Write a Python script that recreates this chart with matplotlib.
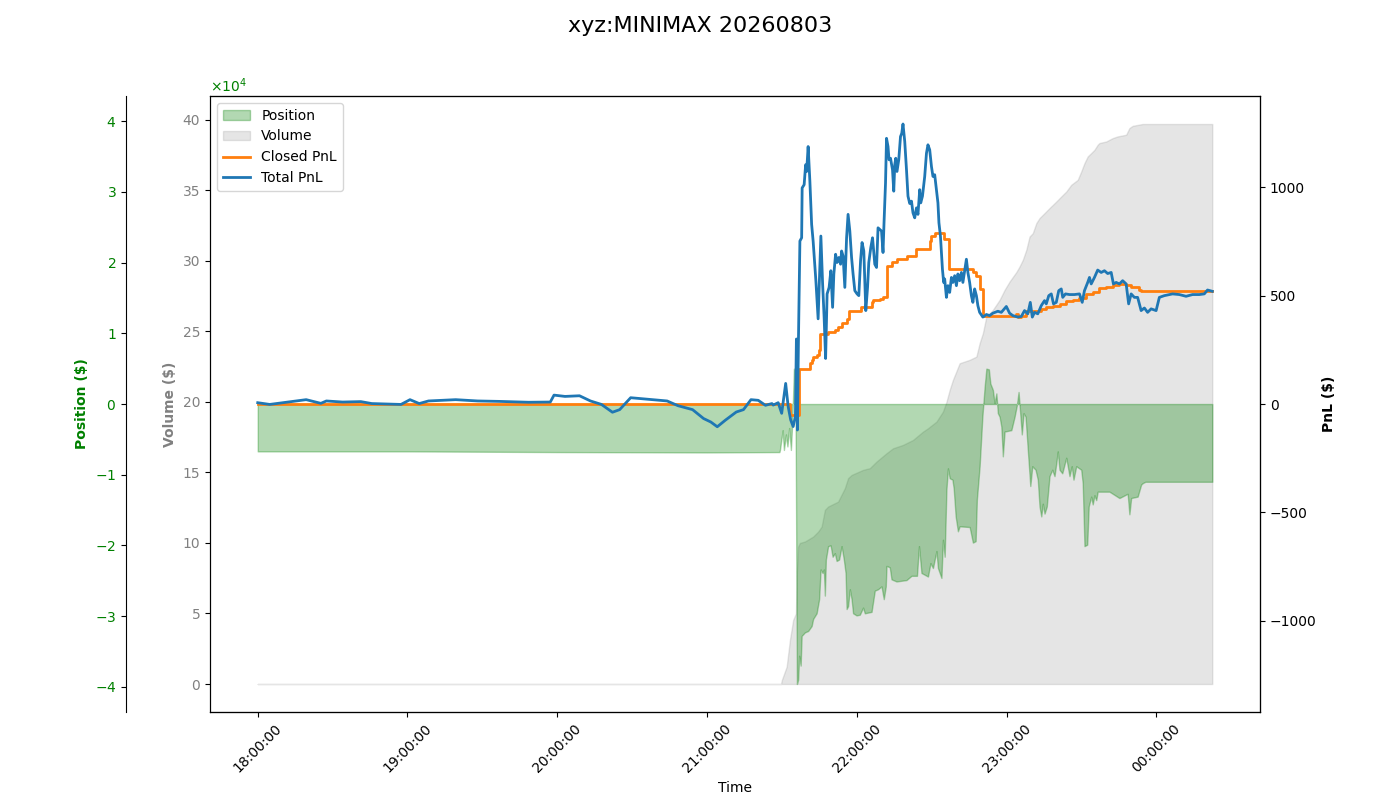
import matplotlib
matplotlib.use("Agg")
import matplotlib.pyplot as plt
import matplotlib.dates as mdates
from matplotlib.patches import Patch
from matplotlib.lines import Line2D
import numpy as np
import pandas as pd

start = pd.Timestamp("2026-08-03 18:00:00")

# Total PnL: minutes after 18:00 and value ($)
total_min = [0, 4.8, 12.2, 19.4, 25.3, 27.5, 34.0, 41.3, 45.7, 57.4, 61.0, 64.7, 68.4, 79.3,
             88.1, 96.8, 108.5, 117.2, 118.7, 123.1, 128.9, 133.3, 137.7, 142.1, 145.0, 149.4,
             155.2, 164.0, 168.4, 174.2, 178.6, 181.5, 184.1, 187.3, 191.7, 194.6, 197.6, 200.5,
             203.4, 206.0, 206.5, 208.5, 209.9, 211.5, 212.5, 213.5, 214.5, 215.4, 215.8, 216.0,
             216.2, 216.6, 217.2, 217.9, 218.1, 218.9, 219.5, 219.9, 220.5, 221.2, 221.9, 222.5,
             223.6, 224.5, 225.2, 225.6, 226.3, 226.9, 227.5, 228.1, 228.9, 229.6, 230.3, 230.8,
             231.5, 232.1, 232.8, 233.5, 233.9, 234.5, 235.2, 235.9, 236.5, 237.2, 237.9, 238.5,
             239.2, 240.1, 240.8, 241.5, 242.1, 242.8, 243.6, 244.3, 244.8, 245.6, 246.3, 247.2,
             247.9, 248.5, 249.9, 250.5, 250.9, 251.5, 251.9, 252.5, 252.9, 253.5, 254.3, 254.8,
             255.2, 255.6, 256.1, 256.8, 257.5, 258.0, 258.5, 259.2, 259.9, 260.5, 261.2, 261.9,
             262.5, 263.2, 263.9, 264.5, 265.2, 265.6, 266.3, 267.2, 267.9, 268.5, 269.2, 269.9,
             270.5, 271.2, 271.9, 272.5, 272.9, 273.5, 273.9, 274.3, 274.8, 275.2, 275.9, 276.5,
             277.2, 277.9, 278.5, 279.2, 279.9, 280.5, 281.2, 281.9, 282.5, 283.2, 283.9, 284.5,
             285.2, 285.9, 286.5, 287.2, 287.9, 288.5, 289.2, 290.5, 291.9, 293.2, 294.5, 296.5,
             297.9, 299.9, 301.2, 302.5, 304.5, 305.9, 307.2, 308.5, 309.5, 310.3, 311.2, 312.5,
             313.9, 315.2, 315.9, 316.9, 317.9, 318.8, 319.9, 320.9, 321.9, 322.5, 323.6, 325.2,
             327.2, 329.2, 330.3, 331.2, 332.5, 333.2, 333.9, 335.2, 336.5, 337.9, 339.2, 340.5,
             341.9, 342.8, 343.9, 345.2, 346.5, 347.9, 348.9, 349.9, 351.2, 352.5, 353.9, 355.2,
             356.5, 357.9, 359.9, 361.2, 363.2, 366.5, 369.2, 371.9, 374.5, 377.2, 379.2, 380.5,
             382.4]
total_pnl = [6, -2, 9, 20, 3, 14, 9, 11, 2, -2, 20, 2, 14, 20,
             14, 12, 8, 9, 41, 35, 38, 14, -2, -38, -26, 29,
             23, 14, -8, -26, -67, -83, -105, -75, -37, -26, 20, 17,
             -6, 2, -5, 6, -43, 95, -12, -73, -104, -58, 300, 270,
             -120, 280, 752, 767, 997, 1012, 1104, 1073, 1188, 1027, 829, 752,
             569, 393, 645, 775, 554, 401, 210, 508, 538, 615, 446, 600,
             691, 653, 676, 645, 706, 683, 538, 767, 875, 798, 676, 600,
             523, 508, 500, 661, 745, 706, 431, 538, 653, 722, 767, 645,
             630, 813, 798, 699, 836, 1020, 1226, 1188, 1127, 1134, 1081, 982,
             1104, 1134, 1073, 1127, 1234, 1249, 1292, 1211, 1081, 959, 925, 936,
             882, 859, 905, 875, 989, 928, 959, 1050, 1157, 1196, 1173, 1096,
             1050, 1058, 989, 928, 836, 775, 699, 622, 561, 577, 492, 546,
             515, 584, 561, 592, 546, 600, 569, 607, 561, 615, 668, 607,
             561, 500, 469, 531, 500, 454, 423, 401, 413, 408, 419, 428,
             423, 450, 419, 408, 401, 404, 431, 416, 469, 401, 423, 416,
             454, 477, 462, 500, 508, 462, 469, 523, 531, 492, 508, 505,
             505, 508, 469, 523, 561, 584, 554, 584, 618, 607, 615, 602,
             607, 554, 561, 554, 569, 554, 462, 508, 492, 492, 431, 443,
             423, 439, 431, 492, 500, 508, 505, 497, 505, 505, 508, 526,
             520]

# Closed PnL (step changes)
closed_min = [0, 213.4, 216.8, 221.2, 221.9, 222.5, 223.9, 224.8, 225.2, 228.4, 231.2, 232.4,
              233.9, 235.9, 236.9, 241.5, 245.9, 246.5, 249.2, 250.4, 251.9, 253.9, 256.1,
              260.1, 263.9, 269.2, 269.9, 271.2, 274.8, 276.8, 286.5, 287.9, 289.2, 290.5,
              303.9, 304.5, 305.9, 307.9, 313.9, 315.9, 318.5, 321.2, 323.9, 326.5, 329.2,
              331.9, 334.5, 337.2, 339.9, 342.5, 345.2, 347.9, 349.9, 353.2, 353.9, 382.4]
closed_pnl = [0, -50, 160, 187, 202, 217, 225, 248, 324, 332, 343, 355,
              373, 393, 431, 446, 469, 480, 485, 492, 638, 653, 668,
              683, 714, 752, 775, 790, 760, 622, 607, 592, 531, 408,
              416, 401, 408, 431, 439, 446, 454, 462, 477, 481, 489,
              508, 515, 535, 541, 549, 554, 549, 538, 526, 523, 523]

# Position ($)
pos_min = [0, 60, 120, 180, 209.0, 209.2, 210.3, 210.8, 211.6, 212.2, 212.9, 213.6, 214.2,
           214.8, 215.4, 216.0, 216.5, 216.9, 217.5, 217.9, 219.2, 220.5, 221.9, 222.5, 223.9,
           224.9, 225.5, 226.3, 226.8, 227.2, 227.6, 228.5, 229.5, 230.3, 231.2, 231.9, 232.9,
           233.9, 234.8, 235.5, 235.9, 236.5, 237.2, 237.9, 238.5, 239.9, 241.2, 242.5, 243.2,
           245.9, 247.2, 248.5, 249.9, 250.8, 251.6, 251.9, 253.2, 253.9, 255.9, 259.9, 261.9,
           264.1, 264.9, 265.9, 268.5, 269.5, 270.5, 271.2, 271.9, 272.5, 273.9, 274.5, 275.2,
           275.9, 276.5, 277.2, 278.3, 278.8, 279.6, 280.5, 281.2, 285.2, 286.5, 287.6, 288.1,
           289.2, 290.3, 291.2, 291.9, 292.9, 293.5, 294.5, 295.2, 295.9, 296.5, 297.2, 297.9,
           298.5, 299.2, 301.9, 303.2, 304.1, 304.8, 305.5, 306.1, 306.8, 307.6, 308.5, 309.5,
           310.3, 311.6, 312.5, 313.2, 313.9, 314.5, 315.2, 316.1, 317.2, 318.3, 319.2, 319.9,
           320.5, 321.2, 322.3, 323.9, 325.2, 326.1, 326.8, 327.9, 329.9, 330.5, 331.2, 332.3,
           332.9, 333.9, 334.5, 335.2, 335.9, 336.5, 341.2, 345.2, 348.5, 349.2, 349.9, 352.5,
           353.9, 354.5, 355.6, 382.4]
position = [-6700, -6700, -6800, -6850, -6800, -6500, -3700, -6500, -4300, -6000, -3400, -6500, -2000,
            5000, 4500, -39600, -39000, -35600, -37000, -32800, -32300, -32100, -31400, -30400, -29600,
            -27600, -23400, -23900, -23400, -27100, -22000, -20100, -20000, -21600, -21100, -22200, -22000,
            -20100, -22000, -23900, -29000, -28600, -26200, -27600, -29600, -29900, -29800, -28800, -29600,
            -29400, -26400, -26200, -25800, -27600, -25800, -22900, -23100, -24800, -25100, -24900, -24300,
            -24300, -20100, -23900, -24400, -22500, -23200, -22000, -20800, -23200, -24600, -19200, -21600,
            -12100, -9100, -10500, -10700, -11900, -15900, -18000, -17300, -17400, -19600, -19400, -13500,
            -8800, -1800, 2400, 5000, 4900, 2900, 2000, 100, 1500, -1300, -1800, -3200,
            -7400, -3900, -3700, -1800, -200, 1700, -1500, -4300, -1300, -1800, -6500, -11600,
            -8800, -9300, -10700, -14500, -15900, -14100, -15500, -14500, -10200, -9300, -10200, -8400,
            -6700, -9300, -9800, -7600, -10200, -8800, -10700, -8800, -9300, -11200, -20100, -19900,
            -14500, -13100, -14200, -12900, -13600, -12400, -12400, -13300, -12700, -15600, -13300, -13100,
            -11400, -11200, -11000, -11000]

# Cumulative volume ($, plotted on its own axis)
vol_min = [0, 209.6, 210.0, 211.9, 213.2, 214.5, 215.6, 216.0, 216.5, 217.2, 219.2, 222.5, 224.5,
           225.9, 227.2, 228.5, 232.5, 235.2, 236.5, 237.9, 242.5, 245.2, 247.9, 251.9, 254.5,
           258.5, 262.5, 266.5, 268.5, 271.9, 274.5, 275.9, 277.2, 278.5, 281.2, 285.2, 287.9,
           289.2, 290.5, 291.9, 294.5, 297.2, 299.2, 301.2, 303.9, 305.2, 306.5, 307.9, 309.2,
           310.5, 311.9, 313.2, 315.2, 317.2, 319.9, 321.9, 323.9, 325.9, 328.5, 329.9, 331.2,
           332.5, 333.9, 335.2, 336.5, 337.2, 339.9, 342.5, 344.5, 347.9, 349.2, 350.5, 354.5,
           382.4]
volume = [0, 0, 0.3, 1.23, 3.12, 4.54, 5.0, 8.0, 9.74, 10.0, 10.1, 10.45, 10.8,
          11.16, 12.34, 12.58, 12.93, 13.88, 14.59, 14.82, 15.18, 15.3, 15.77, 16.36, 16.71,
          16.95, 17.3, 17.89, 18.13, 18.6, 19.31, 20.0, 20.85, 21.56, 22.74, 22.98, 23.21,
          24.16, 24.87, 26.05, 26.52, 27.23, 27.94, 28.53, 29.2, 29.6, 30.07, 30.78, 31.72,
          31.96, 32.67, 33.03, 33.38, 33.74, 34.2, 34.56, 34.91, 35.39, 35.74, 36.33, 36.93,
          37.4, 37.64, 37.87, 38.23, 38.35, 38.46, 38.7, 38.82, 38.94, 39.41, 39.57, 39.7,
          39.7]


def to_time(minutes):
    return (start + pd.to_timedelta(np.array(minutes), unit="m")).to_numpy()


t_total = to_time(total_min)
t_closed = to_time(closed_min)
t_pos = to_time(pos_min)
t_vol = to_time(vol_min)

fig, ax_vol = plt.subplots(figsize=(14, 8), dpi=100)
fig.subplots_adjust(left=0.15, right=0.9, top=0.88, bottom=0.11)

# volume on the host axis
ax_vol.fill_between(t_vol, 0, volume, color="gray", alpha=0.2)
ax_vol.set_ylabel("Volume ($)", color="gray", fontweight="bold")
ax_vol.tick_params(axis="y", labelcolor="gray")
ax_vol.set_xlabel("Time")

# position on an offset left axis
ax_pos = ax_vol.twinx()
ax_pos.spines["left"].set_position(("axes", -0.08))
ax_pos.spines["left"].set_visible(True)
ax_pos.yaxis.set_ticks_position("left")
ax_pos.yaxis.set_label_position("left")
ax_pos.fill_between(t_pos, 0, position, color="green", alpha=0.3)
ax_pos.set_ylabel("Position ($)", color="green", fontweight="bold")
ax_pos.ticklabel_format(axis="y", style="sci", scilimits=(0, 0), useMathText=True)
ax_pos.tick_params(axis="y", labelcolor="green")
ax_pos.yaxis.get_offset_text().set_color("green")
pos_lim = np.max(np.abs(position)) * 1.1
ax_pos.set_ylim(-pos_lim, pos_lim)

# PnL on the right
ax_pnl = ax_vol.twinx()
ax_pnl.plot(t_closed, closed_pnl, color="tab:orange", lw=2, drawstyle="steps-post")
ax_pnl.plot(t_total, total_pnl, color="tab:blue", lw=2)
ax_pnl.set_ylabel("PnL ($)", fontweight="bold")
pnl_lim = max(np.max(np.abs(total_pnl)), np.max(np.abs(closed_pnl))) * 1.1
ax_pnl.set_ylim(-pnl_lim, pnl_lim)

span = t_total[-1] - t_total[0]
ax_vol.set_xlim(t_total[0] - span * 0.05, t_total[-1] + span * 0.05)
ax_vol.xaxis.set_major_locator(mdates.HourLocator())
ax_vol.xaxis.set_major_formatter(mdates.DateFormatter("%H:%M:%S"))
plt.setp(ax_vol.get_xticklabels(), rotation=45)

handles = [Patch(facecolor="green", alpha=0.3, edgecolor="green", label="Position"),
           Patch(facecolor="gray", alpha=0.2, edgecolor="gray", label="Volume"),
           Line2D([], [], color="tab:orange", lw=2, label="Closed PnL"),
           Line2D([], [], color="tab:blue", lw=2, label="Total PnL")]
ax_pnl.legend(handles=handles, loc="upper left")

fig.suptitle("xyz:MINIMAX 20260803", fontsize=16)
fig.savefig("out.png")
